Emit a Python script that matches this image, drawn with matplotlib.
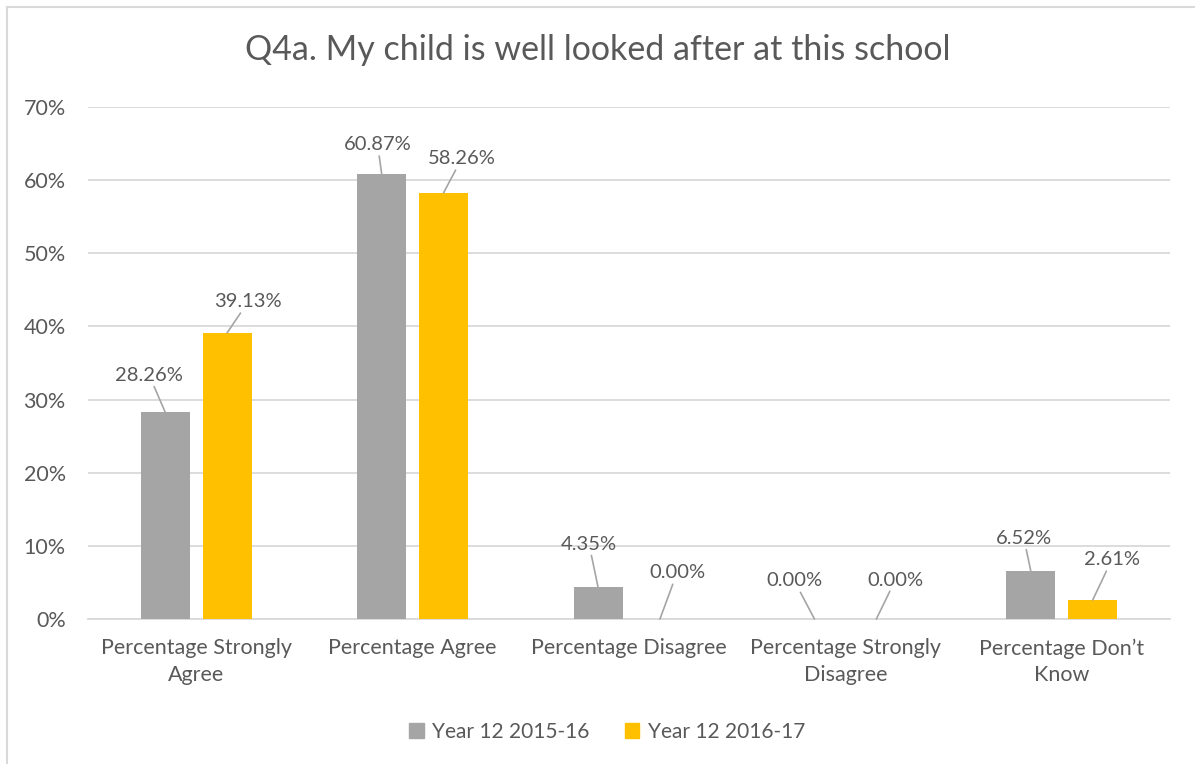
import numpy as np
import matplotlib
matplotlib.use("Agg")
import matplotlib.pyplot as plt
from matplotlib.lines import Line2D
from matplotlib.patches import Patch

categories = ["Percentage Strongly\nAgree", "Percentage Agree", "Percentage Disagree",
              "Percentage Strongly\nDisagree", "Percentage Don\u2019t\nKnow"]
year_1516 = [28.26, 60.87, 4.35, 0.00, 6.52]
year_1617 = [39.13, 58.26, 0.00, 0.00, 2.61]
series_names = ["Year 12 2015-16", "Year 12 2016-17"]
title = "Q4a. My child is well looked after at this school"

# label offsets (pixels) from bar top, as placed in the original
off_1516 = [(-16, 37), (-4, 29), (-9, 43), (-20, 38), (-7, 33)]
off_1617 = [(21, 31), (18, 34), (17, 46), (19, 39), (19, 40)]

plt.rcParams['font.family'] = ['Lato', 'DejaVu Sans']
txt = '#595959'
grey = '#A5A5A5'
yellow = '#FFC000'
grid = '#D9D9D9'

fig = plt.figure(figsize=(11.95, 7.64), dpi=100)
ax = fig.add_axes([88/1195, 1-619/764, (1170-88)/1195, (619-107)/764])

x = np.arange(len(categories))
w = 0.226
d = 0.143
v1 = np.array(year_1516) / 100
v2 = np.array(year_1617) / 100
ax.bar(x - d, v1, w, color=grey, zorder=3)
ax.bar(x + d, v2, w, color=yellow, zorder=3)

for vals, xs, offs in [(v1, x - d, off_1516), (v2, x + d, off_1617)]:
    for xi, v, (dx, dy) in zip(xs, vals, offs):
        ax.annotate(f"{v*100:.2f}%", xy=(xi, v), xytext=(dx, dy),
                    textcoords='offset pixels', ha='center', va='center',
                    fontsize=14.5, color=txt,
                    arrowprops=dict(arrowstyle='-', color=grey, lw=1.2,
                                    shrinkA=0, shrinkB=0))

ax.set_xlim(-0.5, 4.5)
ax.set_ylim(0, 0.70)
ax.set_yticks(np.arange(0, 0.71, 0.1))
ax.set_yticklabels([f"{int(round(t*100))}%" for t in np.arange(0, 0.71, 0.1)])
ax.set_xticks(x)
ax.set_xticklabels(categories, linespacing=1.4)
ax.tick_params(axis='both', length=0, colors=txt, labelsize=15.5)
ax.tick_params(axis='y', pad=16)
ax.tick_params(axis='x', pad=14)
ax.yaxis.grid(True, color=grid, lw=1.3, zorder=0)
for s in ['top', 'right', 'left']:
    ax.spines[s].set_visible(False)
ax.spines['bottom'].set_color(grid)
ax.spines['bottom'].set_linewidth(1.3)

fig.text(0.5, 1-50/764, title, ha='center', va='center', fontsize=24.5, color=txt)

handles = [Patch(color=grey), Patch(color=yellow)]
fig.legend(handles, series_names, loc='center', bbox_to_anchor=(607/1195, 1-732/764),
           ncol=2, frameon=False, fontsize=15, labelcolor=txt,
           handlelength=0.7, handleheight=0.7, handletextpad=0.4, columnspacing=1.7)

# chart border
fig.add_artist(Line2D([7/1195, 7/1195], [0, 1-7/764], color=grid, lw=1.5))
fig.add_artist(Line2D([7/1195, 1], [1-7/764, 1-7/764], color=grid, lw=1.5))

fig.savefig("out.png", dpi=100, facecolor='white')
